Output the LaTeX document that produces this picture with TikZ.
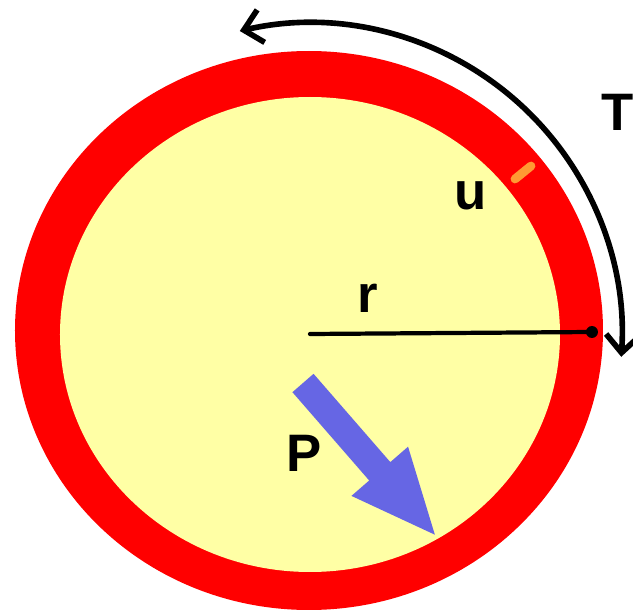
\documentclass[tikz,border=0pt]{standalone}
\usepackage{fontspec}
\setmainfont{Liberation Sans}
\usetikzlibrary{arrows.meta}
\definecolor{ringred}{RGB}{255,0,0}
\definecolor{fillyellow}{RGB}{255,255,165}
\definecolor{pressblue}{RGB}{102,102,228}
\definecolor{strainorange}{RGB}{255,153,51}
\begin{document}
\begin{tikzpicture}[line join=round,line cap=round,>={Straight Barb[length=10pt,width=19pt]}]
	\tikzset{lbl/.style={font=\fontsize{30}{36}\selectfont\bfseries,inner sep=0pt}}
	\useasboundingbox (-6.2,-5.64) rectangle (6.46,6.68);
	\coordinate (O) at (0,0);
	\fill[ringred] (-0.02,0.07) ellipse [x radius=5.88,y radius=5.59];
	\fill[fillyellow] (0,-0.01) ellipse [x radius=5,y radius=4.75];
	% wall thickness
	\coordinate (u1) at (4.1,3.1);
	\coordinate (u2) at (4.42,3.36);
	\draw[strainorange,line width=5pt] (u1)--(u2);
	% radius
	\coordinate (rim) at (5.64,0.04);
	\draw[line width=2.4pt] (O)--(rim);
	\fill (rim) circle (0.12);
	\node[lbl] (r) at (1.16,0.72) {r};
	\node[lbl] (u) at (3.22,2.76) {u};
	\node[lbl] (T) at (6.16,4.44) {T};
	\node[lbl] (P) at (-0.12,-2.38) {P};
	% hoop tension
	\draw[<->,line width=3.2pt] (0,-0.02) ++(103:6.24) arc[start angle=103,end angle=-4,radius=6.24];
	% pressure
	\begin{scope}[shift={(-0.14,-0.98)},rotate=-49]
		\fill[pressblue] (0,0.28)--(2.34,0.28)--(2.34,0.75)--(4.02,0)--(2.34,-0.75)--(2.34,-0.28)--(0,-0.28)--cycle;
	\end{scope}
\end{tikzpicture}
\end{document}
